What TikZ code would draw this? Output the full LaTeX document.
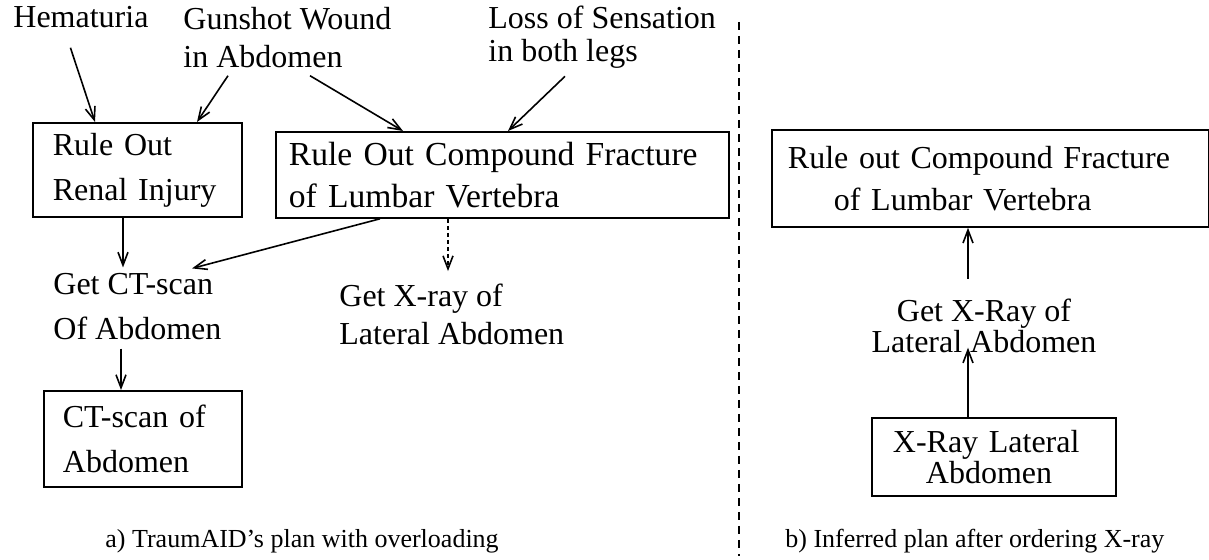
\documentclass[tikz,border=0pt]{standalone}
\usepackage{fontspec}
\setmainfont{Liberation Serif}
\usetikzlibrary{arrows.meta}

\tikzset{
  planbox/.style={draw, line width=0.9pt, anchor=north west, align=left, inner ysep=0pt},
  lbl/.style={inner sep=0pt, anchor=base west, align=left},
  arr/.style={line width=0.8pt, -{Straight Barb[length=6.5pt,width=5pt]}},
  big/.style={font=\fontsize{16}{#1}\selectfont},
  plancap/.style={inner sep=0pt, anchor=base west, font=\fontsize{13}{15}\selectfont},
}

\begin{document}
\begin{tikzpicture}[x=0.5pt, y=-0.5pt]
\useasboundingbox (0,0) rectangle (1209,560);

\node[lbl, big=19pt] (hem) at (13,28) {Hematuria};
\node[lbl, big=19pt] (gun) at (183,68) {Gunshot Wound\\in Abdomen};
\node[lbl, big=16.5pt] (loss) at (488,62) {Loss of Sensation\\in both legs};

\node[planbox, big=22.5pt, text width=84.5pt, inner xsep=10pt, minimum height=47pt] (renal) at (32,122) {Rule Out\\Renal Injury};
\node[planbox, font=\fontsize{16.8}{21}\selectfont, text width=213.5pt, inner xsep=6.5pt, minimum height=43pt] (fracL) at (275,131) {Rule Out Compound Fracture\\of Lumbar Vertebra};

\node[lbl, big=22.5pt] (getct) at (53,340) {Get CT-scan\\Of Abdomen};
\node[lbl, big=19pt] (getxa) at (339,345) {Get X-ray of\\Lateral Abdomen};
\node[planbox, big=22.5pt, text width=80pt, inner xsep=9.5pt, minimum height=48pt] (ctscan) at (43,390) {CT-scan of\\Abdomen};

\draw[arr] ([shift={(-10.5,19)}]hem.south) -- ([shift={(63,0)}]renal.north west);
\draw[arr] ([shift={(45,7)}]gun.south west) -- ([shift={(165,0)}]renal.north west);
\draw[arr] ([shift={(127,7)}]gun.south west) -- ([shift={(128,0)}]fracL.north west);
\draw[arr] ([shift={(77,7)}]loss.south west) -- ([shift={(233,0)}]fracL.north west);
\draw[arr] ([shift={(91,0)}]renal.south west) -- ([shift={(70,-6)}]getct.north west);
\draw[arr] ([shift={(105,0)}]fracL.south west) -- ([shift={(139,-5)}]getct.north west);
\draw[arr, dash pattern=on 2pt off 1.5pt] ([shift={(173,0)}]fracL.south west) -- ([shift={(109,-13)}]getxa.north west);
\draw[arr] ([shift={(68,8)}]getct.south west) -- ([shift={(78,0)}]ctscan.north west);

\draw[line width=0.8pt, dash pattern=on 4pt off 3pt] (739,22) -- (739,556);

\node[planbox, big=21pt, text width=202.5pt, inner xsep=8pt, minimum height=48.5pt] (fracR) at (771,129) {Rule out Compound Fracture\\\hspace*{23pt}of Lumbar Vertebra};
\node[inner sep=0pt, anchor=base, align=center, big=14pt] (getxb) at (984,353) {Get X-Ray of\\Lateral Abdomen};
\node[planbox, big=14.5pt, text width=116pt, inner xsep=3pt, minimum height=39pt] (xray) at (871,417) {\hspace*{7.5pt}X-Ray Lateral\\\hspace*{24pt}Abdomen};

\draw[arr] ([shift={(97,0)}]xray.north west) -- ([shift={(-16,-6)}]getxb.south);
\draw[arr] ([shift={(-16,-20)}]getxb.north) -- ([shift={(197,0)}]fracR.south west);

\node[plancap] (capa) at (105,547) {a) TraumAID's plan with overloading};
\node[plancap] (capb) at (785,547) {b) Inferred plan after ordering X-ray};

\end{tikzpicture}
\end{document}
